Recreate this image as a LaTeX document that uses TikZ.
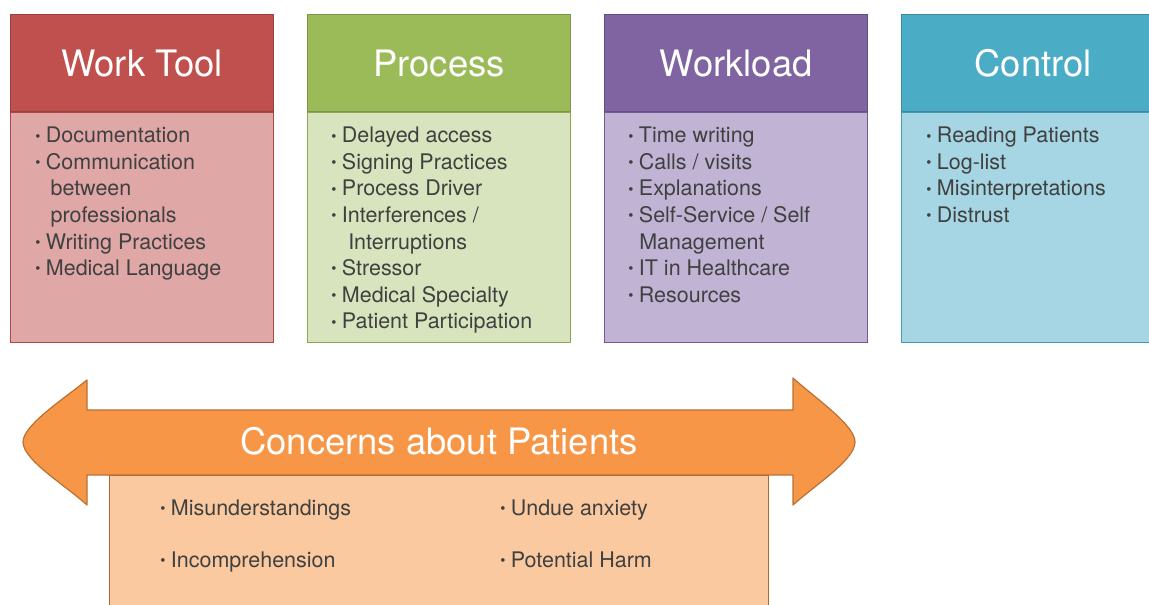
\documentclass[tikz,border=0pt]{standalone}
\usepackage{fontspec}
\setmainfont{TeX Gyre Heros}
\usepackage{tikz}
\usepackage{xcolor}
\usetikzlibrary{positioning}
\definecolor{ctRed}{HTML}{C0504D}
\definecolor{ctRedLight}{HTML}{DFA7A6}
\definecolor{ctGreen}{HTML}{9BBB59}
\definecolor{ctGreenLight}{HTML}{D7E4BD}
\definecolor{ctPurple}{HTML}{8064A2}
\definecolor{ctPurpleLight}{HTML}{C0B3D4}
\definecolor{ctBlue}{HTML}{4BACC6}
\definecolor{ctBlueLight}{HTML}{A6D5E3}
\definecolor{ctOrange}{HTML}{F79646}
\definecolor{ctOrangeLight}{HTML}{FAC9A0}
\definecolor{ctInk}{HTML}{404040}
\tikzset{
  headBox/.style={draw=#1!80!black, fill=#1, text=white, line width=0.9pt, minimum width=197.25pt, minimum height=72.75pt, anchor=north west, inner sep=0pt, font=\fontsize{27.3}{32}\selectfont},
  bodyBox/.style={draw=#1!90!black, fill=#1Light, line width=0.7pt, minimum width=197.25pt, minimum height=172.5pt, inner sep=0pt},
  itemText/.style={anchor=north west, align=left, inner sep=0pt, text=ctInk, font=\fontsize{16.1}{19.9}\selectfont},
  pairText/.style={anchor=base west, inner sep=0pt, text=ctInk, font=\fontsize{16.1}{19.9}\selectfont},
  bandArrow/.style={draw=ctOrange!75!black, fill=ctOrange, line width=0.9pt, line join=round},
  concernBox/.style={draw=ctOrange!70!black, fill=ctOrangeLight, line width=0.7pt, minimum width=494.25pt, minimum height=105pt, anchor=north west, inner sep=0pt}
}
\newcommand{\itm}[1]{\makebox[8pt][l]{\raisebox{1.2pt}{\fontsize{11}{11}\selectfont •}}#1}

\begin{document}
\begin{tikzpicture}[x=0.75pt,y=-0.75pt]
  \useasboundingbox (0,0) rectangle (1149,605);
  \clip (0,0) rectangle (1149,605);
  % four theme columns
  \foreach \x/\nm/\col/\lab in {10/wt/ctRed/Work Tool,307/pr/ctGreen/Process,604/wl/ctPurple/Workload,901/co/ctBlue/Control}
  {
    \node[headBox=\col] (\nm-head) at (\x,14) {\lab};
    \node[bodyBox=\col, below=0pt of \nm-head] (\nm-body) {};
  }
  \node[itemText] (wt-list) at (35,127) {\itm{Documentation}\\\itm{Communication}\\\hspace*{11.5pt}between\\\hspace*{11.5pt}professionals\\\itm{Writing Practices}\\\itm{Medical Language}};
  \node[itemText] (pr-list) at (331,127) {\itm{Delayed access}\\\itm{Signing Practices}\\\itm{Process Driver}\\\itm{Interferences /}\\\hspace*{12.75pt}Interruptions\\\itm{Stressor}\\\itm{Medical Specialty}\\\itm{Patient Participation}};
  \node[itemText] (wl-list) at (628,127) {\itm{Time writing}\\\itm{Calls / visits}\\\itm{Explanations}\\\itm{Self-Service / Self}\\\hspace*{8.25pt}Management\\\itm{IT in Healthcare}\\\itm{Resources}};
  \node[itemText] (co-list) at (926,127) {\itm{Reading Patients}\\\itm{Log-list}\\\itm{Misinterpretations}\\\itm{Distrust}};
  % concerns band
  \node[concernBox] (pat-box) at (109,475) {};
  \draw[bandArrow] (87,410) -- (793,410) -- (793,378)
    .. controls (815,398) and (855,425) .. (855,442)
    .. controls (855,460) and (815,485) .. (793,505)
    -- (793,475) -- (87,475) -- (87,505)
    .. controls (65,485) and (23,460) .. (23,442)
    .. controls (23,425) and (65,398) .. (87,380) -- cycle;
  \node[text=white, font=\fontsize{27.3}{32}\selectfont, inner sep=0pt] (pat-label) at (439,441) {Concerns about Patients};
  \node[pairText] (pat-a) at (160,515) {\itm{Misunderstandings}};
  \node[pairText] (pat-b) at (160,567) {\itm{Incomprehension}};
  \node[pairText] (pat-c) at (500,515) {\itm{Undue anxiety}};
  \node[pairText] (pat-d) at (500,567) {\itm{Potential Harm}};
\end{tikzpicture}
\end{document}
